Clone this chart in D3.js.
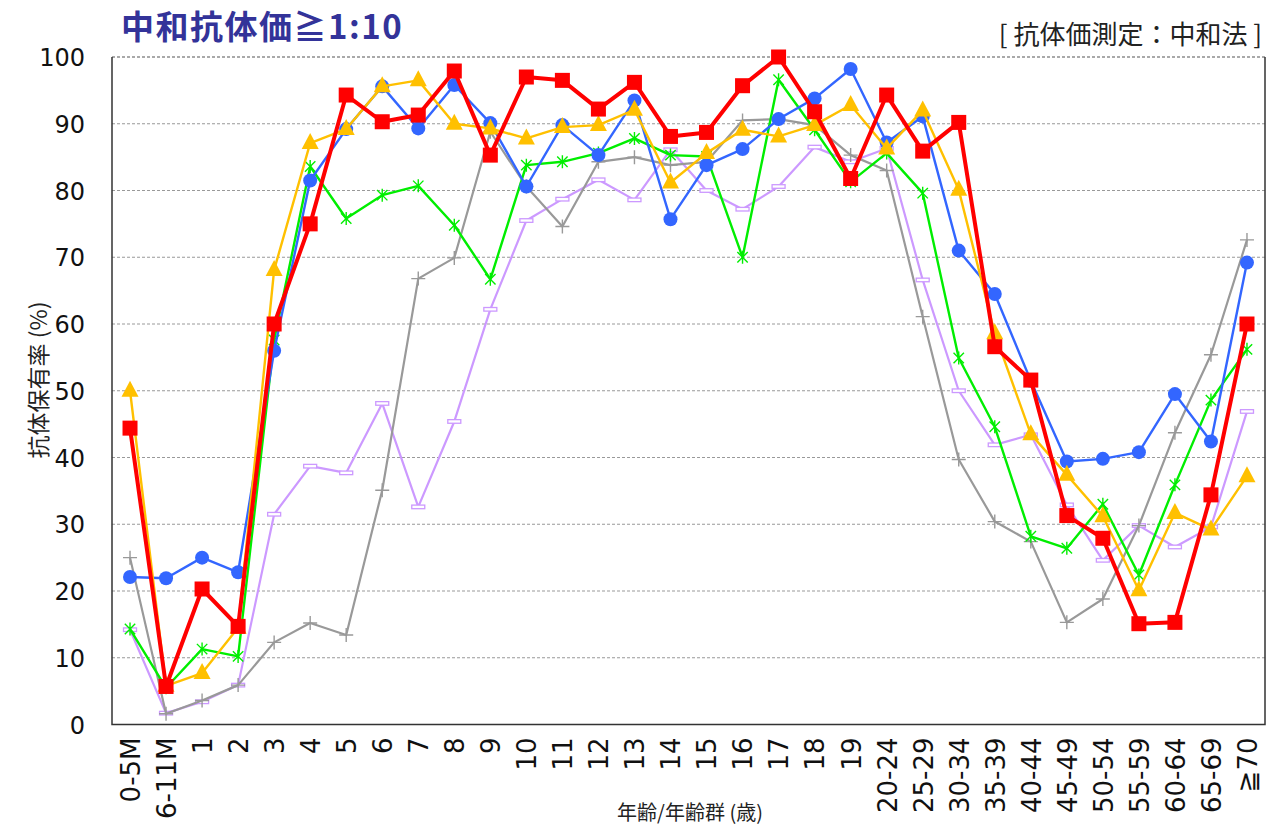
<!DOCTYPE html>
<html><head><meta charset="utf-8">
<script src="https://cdn.jsdelivr.net/npm/d3@7"></script>
<style>body{margin:0;background:#fff}svg{display:block}</style>
</head><body>
<svg id="c" width="1273" height="827"></svg>
<script>
const categories = ["0-5M","6-11M","1","2","3","4","5","6","7","8","9","10","11","12","13","14","15","16","17","18","19","20-24","25-29","30-34","35-39","40-44","45-49","50-54","55-59","60-64","65-69","≧70"];
const yTicks = [0,10,20,30,40,50,60,70,80,90,100];

const lavenderValues = [14.2,1.7,3.4,5.9,31.5,38.7,37.7,48.1,32.6,45.4,62.2,75.5,78.7,81.6,78.6,86.1,80.0,77.2,80.6,86.5,84.3,86.3,66.6,50.0,41.9,43.4,32.9,24.6,29.8,26.6,29.6,46.9];
const grayValues = [25.0,1.6,3.6,5.9,12.3,15.2,13.4,35.1,66.8,69.9,88.8,80.6,74.6,84.3,85.0,83.8,84.3,90.5,90.7,89.8,85.3,83.0,61.1,39.7,30.4,27.4,15.3,18.8,29.8,43.7,55.4,72.6];
const greenValues = [14.3,5.5,11.3,10.2,57.6,83.6,75.8,79.3,80.7,74.8,66.7,83.8,84.3,85.6,87.8,85.3,85.1,70.0,96.6,89.1,81.3,85.6,79.6,54.9,44.6,28.2,26.4,33.0,22.4,35.9,48.6,56.2];
const blueValues = [22.1,21.9,25.0,22.8,56.0,81.5,89.2,95.6,89.3,95.8,90.1,80.6,89.8,85.3,93.5,75.7,83.8,86.2,90.7,93.8,98.2,87.2,91.1,71.0,64.5,51.5,39.4,39.8,40.8,49.5,42.4,69.2];
const yellowValues = [50.0,5.8,7.7,14.5,68.1,87.1,89.2,95.6,96.5,90.0,89.3,87.8,89.5,89.8,92.1,81.2,85.6,89.1,88.1,89.8,92.8,86.3,92.0,80.1,58.6,43.5,37.4,31.2,20.1,31.7,29.2,37.2];
const redValues = [44.4,5.7,20.3,14.7,60.0,75.0,94.3,90.3,91.3,97.9,85.3,97.0,96.5,92.2,96.2,88.1,88.7,95.7,100.0,91.8,81.8,94.3,85.9,90.2,56.6,51.6,31.3,27.9,15.1,15.3,34.4,60.0];

const series = [
  {name:"lavender", values: lavenderValues, color:"#cc99ff", width:2.2, marker:"dash"},
  {name:"gray", values: grayValues, color:"#999999", width:2.2, marker:"plus"},
  {name:"green", values: greenValues, color:"#00ee00", width:2.4, marker:"star"},
  {name:"blue", values: blueValues, color:"#3366ff", width:2.4, marker:"circle"},
  {name:"yellow", values: yellowValues, color:"#ffc000", width:2.4, marker:"triangle"},
  {name:"red", values: redValues, color:"#ff0000", width:4, marker:"square"}
];

const svg = d3.select("#c");
const L = 112, R = 1265, T = 57, B = 724.5;
const x = d3.scalePoint().domain(categories).range([L, R]).padding(0.5);
const y = d3.scaleLinear().domain([0,100]).range([B, T]);

// gridlines
svg.append("g").selectAll("line").data(yTicks.filter(d=>d>0)).join("line")
  .attr("x1", L).attr("x2", R).attr("y1", d=>y(d)).attr("y2", d=>y(d))
  .attr("stroke", d=> d===100 ? "#555" : "#999").attr("stroke-width", 1.2)
  .attr("stroke-dasharray", "3,2");

// frame (left, bottom, right solid)
svg.append("path")
  .attr("d", `M${L},${T} L${L},${B} L${R},${B} L${R},${T}`)
  .attr("fill","none").attr("stroke","#333").attr("stroke-width",1.5);

// y axis
const yAxis = d3.axisLeft(y).tickValues(yTicks).tickSize(0).tickPadding(0);
const yg = svg.append("g").attr("transform", `translate(85,0)`).call(yAxis);
yg.select(".domain").remove();
yg.selectAll("text").attr("font-family","DejaVu Sans, Verdana, sans-serif").attr("font-size",24).attr("fill","#111").attr("dy","0.36em");

// x axis
const xAxis = d3.axisBottom(x).tickSize(0).tickPadding(0);
const xg = svg.append("g").attr("transform", `translate(0,${B})`).call(xAxis);
xg.select(".domain").remove();
xg.selectAll("text")
  .attr("font-family","DejaVu Sans, Verdana, sans-serif").attr("font-size",26).attr("fill","#111")
  .attr("text-anchor","end").attr("transform","rotate(-90)")
  .attr("x",-13).attr("y",0).attr("dy","0.36em");

// lines and markers
const line = d3.line().x((d,i)=>x(categories[i])).y(d=>y(d));
const s7 = 6.5;
const starD = `M0,${-s7}L0,${s7}M${-s7*0.8},${-s7*0.8}L${s7*0.8},${s7*0.8}M${-s7*0.8},${s7*0.8}L${s7*0.8},${-s7*0.8}`;

series.forEach(s=>{
  const g = svg.append("g");
  g.append("path").datum(s.values).attr("d", line)
    .attr("fill","none").attr("stroke", s.color).attr("stroke-width", s.width).attr("stroke-linejoin","round");
  const pts = g.selectAll("g.m").data(s.values).join("g")
    .attr("transform", (d,i)=>`translate(${x(categories[i])},${y(d)})`);
  if (s.marker==="circle") {
    pts.append("circle").attr("r",7).attr("fill", s.color);
  } else if (s.marker==="square") {
    pts.append("rect").attr("x",-7.5).attr("y",-7.5).attr("width",15).attr("height",15).attr("fill", s.color);
  } else if (s.marker==="triangle") {
    pts.append("path").attr("d","M0,-10 L8.5,6 L-8.5,6 Z").attr("fill", s.color);
  } else if (s.marker==="star") {
    pts.append("path").attr("d", starD).attr("stroke", s.color).attr("stroke-width",1.4).attr("fill","none");
  } else if (s.marker==="plus") {
    pts.append("path").attr("d","M-7,0 L7,0 M0,-7 L0,7").attr("stroke", s.color).attr("stroke-width",1.4).attr("fill","none");
  } else if (s.marker==="dash") {
    pts.append("rect").attr("x",-6.5).attr("y",-1.8).attr("width",13).attr("height",3.6).attr("fill","#fff").attr("stroke", s.color).attr("stroke-width",1.3);
  }
});

// titles
svg.append("text").attr("x",121).attr("y",39).text("中和抗体価≧1:10")
  .attr("font-family","Noto Sans CJK JP, sans-serif").attr("font-weight","bold").attr("font-size",33)
  .attr("letter-spacing","1.5px").attr("fill","#333399");
svg.append("text").attr("x",1262).attr("y",44).attr("text-anchor","end").text("[ 抗体価測定：中和法 ]")
  .attr("font-family","Noto Sans CJK JP, sans-serif").attr("font-size",26).attr("fill","#222");
svg.append("text").attr("transform","translate(47,380) rotate(-90)").attr("text-anchor","middle")
  .text("抗体保有率 (%)").attr("font-family","Noto Sans CJK JP, sans-serif").attr("font-size",23).attr("fill","#222");
svg.append("text").attr("x",690).attr("y",820).attr("text-anchor","middle")
  .text("年齢/年齢群 (歳)").attr("font-family","Noto Sans CJK JP, sans-serif").attr("font-size",20).attr("fill","#222");
</script>
</body></html>
